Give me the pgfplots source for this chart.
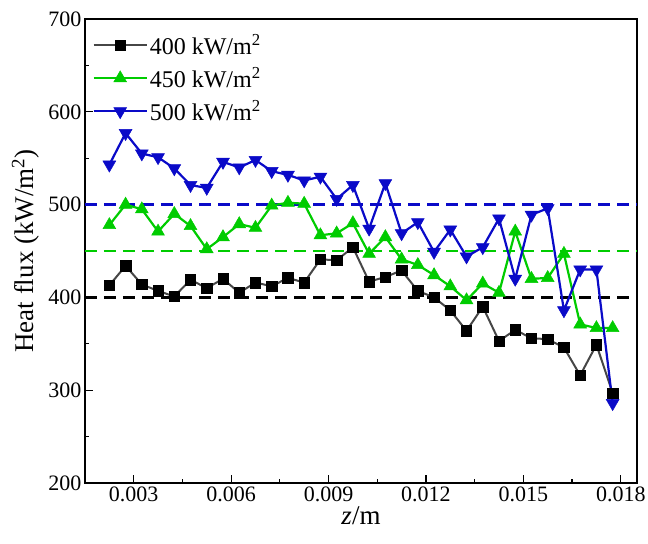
\documentclass[border=0pt]{standalone}
\usepackage{fontspec}
\setmainfont{Liberation Serif}
\usepackage{pgfplots}
\usepackage{pgfplotstable}
\pgfplotsset{compat=1.18}

\definecolor{mark400}{RGB}{0,0,0}
\definecolor{line400}{RGB}{70,70,70}
\definecolor{green450}{RGB}{0,204,0}
\definecolor{blue500}{RGB}{10,10,200}

% Local heat flux along the wall for three imposed heat fluxes
\pgfplotstableread{
z        q400 q450 q500
0.00225  413  478  543
0.00275  434  500  577
0.00325  414  495  555
0.00375  407  471  551
0.00425  401  490  539
0.00475  419  477  521
0.00525  410  452  518
0.00575  420  465  546
0.00625  405  479  540
0.00675  416  475  548
0.00725  412  499  536
0.00775  421  502  532
0.00825  416  501  526
0.00875  441  467  530
0.00925  440  469  506
0.00975  454  480  521
0.01025  417  447  474
0.01075  422  465  523
0.01125  429  441  469
0.01175  407  435  481
0.01225  400  424  449
0.01275  386  412  473
0.01325  364  397  444
0.01375  390  415  454
0.01425  353  405  485
0.01475  365  471  420
0.01525  356  420  489
0.01575  355  421  496
0.01625  346  447  386
0.01675  316  371  430
0.01725  349  367  430
0.01775  297  367  286
}\fluxdata

\begin{document}
\begin{tikzpicture}
\begin{axis}[
  scale only axis,
  width=552bp, height=464bp,
  xmin=0.0015, xmax=0.0185,
  ymin=200, ymax=700,
  xtick={0.003,0.006,0.009,0.012,0.015,0.018},
  ytick={200,300,400,500,600,700},
  minor x tick num=1,
  minor y tick num=1,
  tick align=inside,
  xtick pos=bottom,
  ytick pos=left,
  major tick length=8bp,
  minor tick length=4.5bp,
  axis line style={line width=1.3bp},
  every tick/.style={black, line width=1.2bp},
  scaled x ticks=false,
  xticklabel style={/pgf/number format/.cd, fixed, precision=3, fixed zerofill},
  /pgf/number format/assume math mode=true,
  tick label style={font=\fontsize{22bp}{26bp}\selectfont},
  label style={font=\fontsize{27bp}{31bp}\selectfont},
  xlabel={\textit{z}/m},
  xlabel style={yshift=2bp},
  ylabel={Heat flux (kW/m\textsuperscript{2})},
  ylabel style={at={(axis description cs:-0.108,0.5)}, anchor=center},
  legend cell align=left,
  legend style={
    at={(0.008,0.976)}, anchor=north west,
    draw=none, fill=none,
    font=\fontsize{24bp}{28bp}\selectfont,
    row sep=7.5bp,
  },
  legend image code/.code={
    \draw[mark repeat=2, mark phase=2]
      plot coordinates {(0bp,0bp) (26.5bp,0bp) (53bp,0bp)};
  },
]
% reference levels of the imposed heat flux
\addplot[forget plot, black, line width=2.2bp, dash pattern=on 12bp off 7bp]
  coordinates {(0.0015,400) (0.0185,400)};
\addplot[forget plot, green450, line width=2.2bp, dash pattern=on 12bp off 7bp]
  coordinates {(0.0015,450) (0.0185,450)};
\addplot[forget plot, blue500, line width=2.2bp, dash pattern=on 12bp off 7bp]
  coordinates {(0.0015,500) (0.0185,500)};

\addplot[line400, line width=2bp, mark=square*,
  mark options={mark400, fill=mark400, mark size=5.2bp, line width=0.5bp}]
  table[x=z, y=q400] {\fluxdata};
\addlegendentry{400 kW/m\textsuperscript{2}}

\addplot[green450, line width=2.2bp, mark=triangle*,
  mark options={green450, fill=green450, mark size=7.4bp, line width=0.5bp}]
  table[x=z, y=q450] {\fluxdata};
\addlegendentry{450 kW/m\textsuperscript{2}}

\addplot[blue500, line width=2.2bp, mark=triangle*,
  mark options={blue500, fill=blue500, mark size=7.4bp, rotate=180, line width=0.5bp}]
  table[x=z, y=q500] {\fluxdata};
\addlegendentry{500 kW/m\textsuperscript{2}}
\end{axis}
\pgfresetboundingbox
\path[use as bounding box]
  ([xshift=-85bp, yshift=-61bp]current axis.south west)
  rectangle ([xshift=11bp, yshift=19bp]current axis.north east);
\end{tikzpicture}
\end{document}
